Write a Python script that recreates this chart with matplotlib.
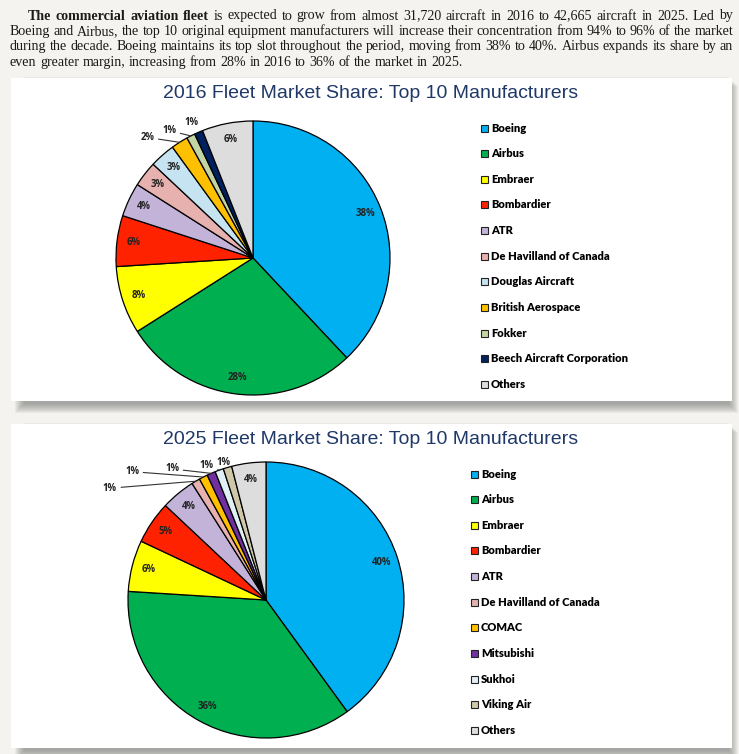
import matplotlib
matplotlib.use('Agg')
import numpy as np
import matplotlib.pyplot as plt
from matplotlib.patches import Rectangle

# ---- data ----
names_2016 = ['Boeing', 'Airbus', 'Embraer', 'Bombardier', 'ATR', 'De Havilland of Canada',
              'Douglas Aircraft', 'British Aerospace', 'Fokker', 'Beech Aircraft Corporation', 'Others']
share_2016 = [38, 28, 8, 6, 4, 3, 3, 2, 1, 1, 6]
colors_2016 = ['#00B0F0', '#00B050', '#FFFF00', '#FF2200', '#C3B3D8', '#E6B1AE',
               '#C5E3F0', '#FFC000', '#C3D5A4', '#002060', '#DDDDDD']

names_2025 = ['Boeing', 'Airbus', 'Embraer', 'Bombardier', 'ATR', 'De Havilland of Canada',
              'COMAC', 'Mitsubishi', 'Sukhoi', 'Viking Air', 'Others']
share_2025 = [40, 36, 6, 5, 4, 1, 1, 1, 1, 1, 4]
colors_2025 = ['#00B0F0', '#00B050', '#FFFF00', '#FF2200', '#C3B3D8', '#E6B1AE',
               '#FFC000', '#7030A0', '#E0F0F5', '#CFC7A8', '#DDDDDD']

title_2016 = '2016 Fleet Market Share: Top 10 Manufacturers'
title_2025 = '2025 Fleet Market Share: Top 10 Manufacturers'

body = [
    "**The commercial aviation fleet** is expected to grow from almost 31,720 aircraft in 2016 to  42,665 aircraft in 2025. Led by",
    "Boeing and Airbus, the top 10 original equipment manufacturers will increase their concentration from 94% to 96% of the market",
    "during the decade. Boeing maintains its top slot throughout the period, moving from 38% to 40%. Airbus expands its share by an",
    "even greater margin, increasing from 28% in 2016 to 36% of the market in 2025.",
]

W, H = 739, 754
BG = '#F4F3EF'
NAVY = '#1F3868'
fig = plt.figure(figsize=(W / 100, H / 100), dpi=100)
fig.patch.set_facecolor(BG)


def fx(x):
    return x / W


def fy(y):
    return 1 - y / H


def panel(x0, y0, x1, y1):
    # soft drop shadow
    for k in range(10):
        fig.add_artist(Rectangle((fx(x0 + 4 + k), fy(y1 + 12 - k)), (x1 - x0 + 2 - 2 * k) / W,
                                 (y1 - y0 + 4) / H, transform=fig.transFigure,
                                 facecolor='#6f6f6f', edgecolor='none', alpha=0.08, zorder=0))
    fig.add_artist(Rectangle((fx(x0), fy(y1)), (x1 - x0) / W, (y1 - y0) / H,
                             transform=fig.transFigure, facecolor='white',
                             edgecolor='none', zorder=1))


panel(11, 78, 732, 401)
panel(11, 424, 732, 748)

# ---- justified body text ----
renderer = fig.canvas.get_renderer()
serif = 'Liberation Serif'
fsize = 10.1


def text_width(s, **kw):
    t = fig.text(0, 0, s, fontsize=fsize, family=serif, **kw)
    wd = t.get_window_extent(renderer).width
    t.remove()
    return wd


space = text_width('a a') - 2 * text_width('a')
for li, line in enumerate(body):
    y = fy(16 + li * 15.4)
    left = 28 if li == 0 else 10
    right = 733
    words = []
    bold = False
    for w in line.split():
        if w.startswith('**'):
            bold = True
            w = w[2:]
        end_bold = w.endswith('**')
        if end_bold:
            w = w[:-2]
        words.append((w, bold))
        if end_bold:
            bold = False
    arts = []
    for w, b in words:
        t = fig.text(0, y, w, fontsize=fsize, family=serif, weight='bold' if b else 'normal',
                     color='#1a1a1a', va='center', ha='left', zorder=3)
        arts.append(t)
    widths = [a.get_window_extent(renderer).width for a in arts]
    if li < len(body) - 1:
        gap = max((right - left - sum(widths)) / (len(widths) - 1), space * 0.6)
    else:
        gap = space
    x = left
    for a, wd in zip(arts, widths):
        a.set_x(fx(x))
        x += wd + gap


def draw_pie(cx, cy, R, values, colors, names, title, ty, leg_x, leg_y0, small_pos):
    s = 200
    ax = fig.add_axes([fx(cx - s), fy(cy + s), 2 * s / W, 2 * s / H], zorder=2)
    wedges, _ = ax.pie(values, colors=colors, startangle=90, counterclock=False, radius=1,
                       wedgeprops=dict(edgecolor='black', linewidth=0.9))
    k = s / R
    ax.set_xlim(-k, k)
    ax.set_ylim(-k, k)
    ax.axis('off')
    for i, (w, v) in enumerate(zip(wedges, values)):
        ang = np.deg2rad((w.theta1 + w.theta2) / 2)
        lbl = f'{v}%'
        kw = dict(fontsize=6.9, family='Open Sans', weight='bold', color='#222222', va='center')
        if i in small_pos:
            tx, ty_, line = small_pos[i]
            if line:
                ax.annotate(lbl, xy=(np.cos(ang), np.sin(ang)), xytext=(tx, ty_),
                            ha='right' if tx < -0.5 else 'center',
                            arrowprops=dict(arrowstyle='-', color='#333333', lw=0.8,
                                            shrinkA=1, shrinkB=0), **kw)
            else:
                ax.text(tx, ty_, lbl, ha='center', **kw)
        else:
            ax.text(0.88 * np.cos(ang), 0.88 * np.sin(ang), lbl, ha='center', **kw)

    fig.text(0.502, fy(ty), title, fontsize=14, family='Liberation Sans', color=NAVY,
             ha='center', va='center', zorder=3)
    for i, (n, c) in enumerate(zip(names, colors)):
        y = leg_y0 + i * 25.65
        fig.add_artist(Rectangle((fx(leg_x), fy(y + 3.5)), 7 / W, 7 / H, transform=fig.transFigure,
                                 facecolor=c, edgecolor='#222222', lw=0.8, zorder=3))
        fig.text(fx(leg_x + 10), fy(y), n, fontsize=8, family='Lato', weight='heavy',
                 color='black', ha='left', va='center', zorder=3)


draw_pie(253, 258, 137, share_2016, colors_2016, names_2016, title_2016, 93, 481, 128,
         {7: (-0.72, 0.88, True), 8: (-0.56, 0.93, True), 9: (-0.45, 0.99, False)})
draw_pie(266, 600, 138, share_2025, colors_2025, names_2025, title_2025, 439, 471, 474,
         {5: (-1.08, 0.81, True), 6: (-0.92, 0.93, True), 7: (-0.63, 0.95, True),
          8: (-0.43, 0.975, True), 9: (-0.31, 1.0, False)})

fig.savefig('out.png', dpi=100, facecolor=BG)
